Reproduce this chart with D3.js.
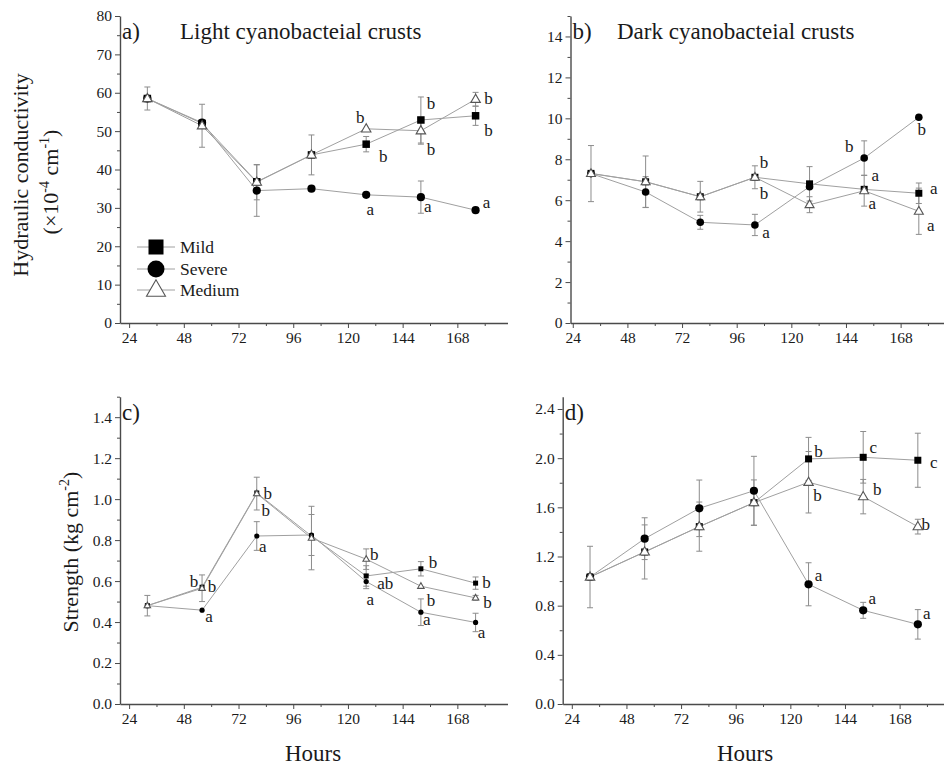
<!DOCTYPE html>
<html><head><meta charset="utf-8">
<script src="https://cdn.jsdelivr.net/npm/d3@7/dist/d3.min.js"></script>
<style>
body{margin:0;background:#fff}
svg{display:block}
text{font-family:"Liberation Serif","Times New Roman",serif;fill:#1a1a1a}
</style>
</head><body>
<svg id="chart" width="944" height="771"></svg>
<script>
// ---------------- DATA ----------------
const hours = [32, 56, 80, 104, 128, 152, 176];
const seriesNames = ["Mild", "Severe", "Medium"];
const xTicks = [24, 48, 72, 96, 120, 144, 168];

// a) Light cyanobacteial crusts - hydraulic conductivity
const aMild      = [58.5, 52.0, 36.8, 43.8, 46.6, 52.9, 54.0];
const aMildErr   = [0, 0, 0, 0, 2.0, 6.0, 2.5];
const aSevere    = [58.5, 52.2, 34.5, 35.0, 33.4, 32.8, 29.4];
const aSevereErr = [0, 0, 6.7, 0, 0, 4.2, 0];
const aMedium    = [58.5, 51.4, 36.7, 43.8, 50.6, 50.1, 58.3];
const aMediumErr = [3.0, 5.6, 4.6, 5.2, 0, 3.5, 1.8];
const aLetters   = [["Medium",4,"b"],["Mild",4,"b"],["Severe",4,"a"],["Mild",5,"b"],["Medium",5,"b"],["Severe",5,"a"],["Medium",6,"b"],["Mild",6,"b"],["Severe",6,"a"]];
const aYTicks    = [0, 10, 20, 30, 40, 50, 60, 70, 80];

// b) Dark cyanobacteial crusts - hydraulic conductivity
const bMild      = [7.31, 6.90, 6.17, 7.12, 6.80, 6.53, 6.34];
const bMildErr   = [0, 0, 0.75, 0, 0.84, 0, 0.5];
const bSevere    = [7.30, 6.40, 4.92, 4.79, 6.66, 8.06, 10.05];
const bSevereErr = [0, 0.75, 0.34, 0.52, 0, 0.84, 0];
const bMedium    = [7.30, 6.90, 6.17, 7.12, 5.78, 6.46, 5.46];
const bMediumErr = [1.37, 1.26, 0, 0.56, 0.39, 0.75, 1.13];
const bLetters   = [["Mild",3,"b"],["Medium",3,"b"],["Severe",3,"a"],["Severe",5,"b"],["Mild",5,"a"],["Medium",5,"a"],["Severe",6,"b"],["Mild",6,"a"],["Medium",6,"a"]];
const bYTicks    = [0, 2, 4, 6, 8, 10, 12, 14];

// c) Light crusts - strength
const cMild      = [0.48, 0.57, 1.03, 0.82, 0.625, 0.66, 0.59];
const cMildErr   = [0, 0, 0, 0, 0.05, 0.035, 0.03];
const cSevere    = [0.48, 0.458, 0.82, 0.825, 0.598, 0.448, 0.398];
const cSevereErr = [0, 0, 0.07, 0.10, 0.035, 0.065, 0.045];
const cMedium    = [0.48, 0.565, 1.027, 0.81, 0.707, 0.575, 0.518];
const cMediumErr = [0.05, 0.065, 0.08, 0.155, 0.05, 0, 0.012];
const cLetters   = [["Medium",1,"b"],["Mild",1,"b"],["Severe",1,"a"],["Medium",2,"b"],["Mild",2,"b"],["Severe",2,"a"],["Medium",4,"b"],["Mild",4,"ab"],["Severe",4,"a"],["Mild",5,"b"],["Medium",5,"b"],["Severe",5,"a"],["Mild",6,"b"],["Medium",6,"b"],["Severe",6,"a"]];
const cYTicks    = [0, 0.2, 0.4, 0.6, 0.8, 1.0, 1.2, 1.4];

// d) Dark crusts - strength
const dMild      = [1.033, 1.237, 1.443, 1.638, 1.994, 2.007, 1.983];
const dMildErr   = [0, 0, 0, 0, 0.175, 0.21, 0.22];
const dSevere    = [1.033, 1.345, 1.592, 1.735, 0.974, 0.762, 0.648];
const dSevereErr = [0, 0.17, 0.23, 0.28, 0.175, 0.065, 0.12];
const dMedium    = [1.033, 1.237, 1.443, 1.638, 1.804, 1.687, 1.443];
const dMediumErr = [0.25, 0.22, 0.20, 0.185, 0.25, 0.14, 0.06];
const dLetters   = [["Mild",4,"b"],["Medium",4,"b"],["Severe",4,"a"],["Mild",5,"c"],["Medium",5,"b"],["Severe",5,"a"],["Mild",6,"c"],["Medium",6,"b"],["Severe",6,"a"]];
const dYTicks    = [0, 0.4, 0.8, 1.2, 1.6, 2.0, 2.4];

// ---------------- LAYOUT (placement of letters relative to their point, px) ----------------
const aNudge = [[-6,-11],[17,13],[4,15],[10,-16],[10,19],[7,10],[13,0],[13,15],[11,-7]];
const bNudge = [[9,-14],[9,17],[11,8],[-15,-11],[11,-13],[8,13],[3,13],[15,-4],[12,15]];
const cNudge = [[-8,-6],[10,0],[7,7],[11,0],[9,18],[6,11],[8,-4],[19,8],[4,19],[12,-6],[10,15],[6,8],[11,0],[12,5],[6,11]];
const dNudge = [[10,-7],[9,14],[10,-8],[10,-9],[14,-7],[9,-11],[16,3],[8,-2],[9,-10]];

const svg = d3.select("#chart");

const panels = [
  {id:"a", xr:[120,507.5], xd:[20,190], yr:[323,16], yd:[0,80], ticks:aYTicks, minor:5, fmt:d3.format("d"),
   data:{Mild:[aMild,aMildErr],Severe:[aSevere,aSevereErr],Medium:[aMedium,aMediumErr]}, letters:aLetters, nudge:aNudge,
   size:{sq:7.5, ci:4.1, tr:9.5}, tag:"a)", title:"Light cyanobacteial crusts", titleX:180},
  {id:"b", xr:[570.5,950.7], xd:[23,190], yr:[323,16], yd:[0,15], ticks:bYTicks, minor:1, fmt:d3.format("d"),
   data:{Mild:[bMild,bMildErr],Severe:[bSevere,bSevereErr],Medium:[bMedium,bMediumErr]}, letters:bLetters, nudge:bNudge,
   size:{sq:7, ci:3.8, tr:9}, tag:"b)", title:"Dark cyanobacteial crusts", titleX:617},
  {id:"c", xr:[120,507.5], xd:[20,190], yr:[704,396.7], yd:[0,1.5], ticks:cYTicks, minor:0.1, fmt:d3.format(".1f"),
   data:{Mild:[cMild,cMildErr],Severe:[cSevere,cSevereErr],Medium:[cMedium,cMediumErr]}, letters:cLetters, nudge:cNudge,
   size:{sq:5, ci:2.6, tr:6.5}, tag:"c)", title:null},
  {id:"d", xr:[562.7,949.7], xd:[20,190], yr:[704,396.7], yd:[0,2.5], ticks:dYTicks, minor:0.2, fmt:d3.format(".1f"),
   data:{Mild:[dMild,dMildErr],Severe:[dSevere,dSevereErr],Medium:[dMedium,dMediumErr]}, letters:dLetters, nudge:dNudge,
   size:{sq:7, ci:4.1, tr:9.5}, tag:"d)", title:null}
];

const lineColor = "#a0a0a0", errColor = "#8c8c8c", axisColor = "#4a4a4a";

function drawMarker(g, type, cx, cy, s) {
  if (type === "Mild") {
    g.append("rect").attr("x", cx - s.sq/2).attr("y", cy - s.sq/2).attr("width", s.sq).attr("height", s.sq).attr("fill", "#000");
  } else if (type === "Severe") {
    g.append("circle").attr("cx", cx).attr("cy", cy).attr("r", s.ci).attr("fill", "#000");
  } else {
    const h = s.tr * 0.866;
    const pts = [[cx, cy - h*0.62],[cx - s.tr/2, cy + h*0.38],[cx + s.tr/2, cy + h*0.38]];
    g.append("path").attr("d", "M" + pts.map(p => p.join(",")).join("L") + "Z")
      .attr("fill", "#fff").attr("stroke", "#555").attr("stroke-width", 1.1);
  }
}

panels.forEach(p => {
  const x = d3.scaleLinear().domain(p.xd).range(p.xr);
  const y = d3.scaleLinear().domain(p.yd).range(p.yr);
  const g = svg.append("g");
  const y0 = p.yr[0], x0 = p.xr[0];

  // minor ticks
  const yMinor = d3.range(p.yd[0], p.yd[1] + 1e-9, p.minor).filter(v => !p.ticks.some(t => Math.abs(t - v) < 1e-9));
  const xMinor = d3.range(36, p.xd[1], 24);
  g.append("g").attr("transform", `translate(${x0},0)`)
    .call(d3.axisLeft(y).tickValues(yMinor).tickSize(3).tickFormat("").tickSizeOuter(0))
    .call(s => s.select(".domain").remove())
    .call(s => s.selectAll("line").attr("stroke", axisColor));
  g.append("g").attr("transform", `translate(0,${y0})`)
    .call(d3.axisBottom(x).tickValues(xMinor).tickSize(3).tickFormat("").tickSizeOuter(0))
    .call(s => s.select(".domain").remove())
    .call(s => s.selectAll("line").attr("stroke", axisColor));

  // major axes
  g.append("g").attr("transform", `translate(${x0},0)`)
    .call(d3.axisLeft(y).tickValues(p.ticks).tickSize(5).tickPadding(3).tickFormat(p.fmt).tickSizeOuter(0))
    .call(s => s.select(".domain").attr("stroke", axisColor).attr("stroke-width", 1.4))
    .call(s => s.selectAll("line").attr("stroke", axisColor))
    .call(s => s.selectAll("text").attr("font-family", '"Liberation Serif",serif').attr("font-size", 15.5).attr("fill", "#2a2a2a"));
  g.append("g").attr("transform", `translate(0,${y0})`)
    .call(d3.axisBottom(x).tickValues(xTicks).tickSize(5).tickPadding(4).tickFormat(d3.format("d")).tickSizeOuter(0))
    .call(s => s.select(".domain").attr("stroke", axisColor).attr("stroke-width", 1.4))
    .call(s => s.selectAll("line").attr("stroke", axisColor))
    .call(s => s.selectAll("text").attr("font-family", '"Liberation Serif",serif').attr("font-size", 15.5).attr("fill", "#2a2a2a"));

  // lines
  const line = d3.line().x((d, i) => x(hours[i])).y(d => y(d));
  seriesNames.forEach(n => {
    g.append("path").datum(p.data[n][0]).attr("d", line)
      .attr("fill", "none").attr("stroke", lineColor).attr("stroke-width", 1);
  });
  // error bars
  seriesNames.forEach(n => {
    const [vals, errs] = p.data[n];
    vals.forEach((v, i) => {
      const e = errs[i];
      if (!e) return;
      const cx = x(hours[i]);
      g.append("line").attr("x1", cx).attr("x2", cx).attr("y1", y(v - e)).attr("y2", y(v + e)).attr("stroke", errColor).attr("stroke-width", 1);
      [v - e, v + e].forEach(w => g.append("line").attr("x1", cx - 3).attr("x2", cx + 3).attr("y1", y(w)).attr("y2", y(w)).attr("stroke", errColor).attr("stroke-width", 1));
    });
  });
  // markers
  seriesNames.forEach(n => {
    p.data[n][0].forEach((v, i) => drawMarker(g, n, x(hours[i]), y(v), p.size));
  });
  // letters
  p.letters.forEach((l, k) => {
    const [n, i, t] = l;
    const [dx, dy] = p.nudge[k];
    g.append("text").attr("x", x(hours[i]) + dx).attr("y", y(p.data[n][0][i]) + dy + 5)
      .attr("text-anchor", "middle").attr("font-size", 17).text(t);
  });
  // tags and titles
  g.append("text").attr("x", x0 + 2).attr("y", p.yr[1] + 23).attr("font-size", 23).text(p.tag);
  if (p.title) g.append("text").attr("x", p.titleX).attr("y", p.yr[1] + 23).attr("font-size", 23).text(p.title);
});

// legend in panel a
const leg = svg.append("g");
const legY = [247, 269, 290];
const legSize = {sq:15, ci:8.5, tr:19};
seriesNames.forEach((n, i) => {
  leg.append("line").attr("x1", 137).attr("x2", 175).attr("y1", legY[i]).attr("y2", legY[i]).attr("stroke", lineColor).attr("stroke-width", 1);
  drawMarker(leg, n, 156, legY[i], legSize);
  leg.append("text").attr("x", 180).attr("y", legY[i] + 6).attr("font-size", 17.5).text(n);
});

// axis titles
const t1 = svg.append("text").attr("transform", "translate(28,175) rotate(-90)").attr("text-anchor", "middle").attr("font-size", 22);
t1.text("Hydraulic conductivity");
const t2 = svg.append("text").attr("transform", "translate(58,182) rotate(-90)").attr("text-anchor", "middle").attr("font-size", 22);
t2.append("tspan").text("(\u00d710");
t2.append("tspan").attr("font-size", 14).attr("dy", -9).text("-4");
t2.append("tspan").attr("dy", 9).text(" cm");
t2.append("tspan").attr("font-size", 14).attr("dy", -9).text("-1");
t2.append("tspan").attr("dy", 9).text(")");

const t3 = svg.append("text").attr("transform", "translate(78,552) rotate(-90)").attr("text-anchor", "middle").attr("font-size", 22);
t3.append("tspan").text("Strength (kg cm");
t3.append("tspan").attr("font-size", 14).attr("dy", -9).text("-2");
t3.append("tspan").attr("dy", 9).text(")");

svg.append("text").attr("x", 313).attr("y", 761).attr("text-anchor", "middle").attr("font-size", 23).text("Hours");
svg.append("text").attr("x", 745).attr("y", 761).attr("text-anchor", "middle").attr("font-size", 23).text("Hours");
</script>
</body></html>
